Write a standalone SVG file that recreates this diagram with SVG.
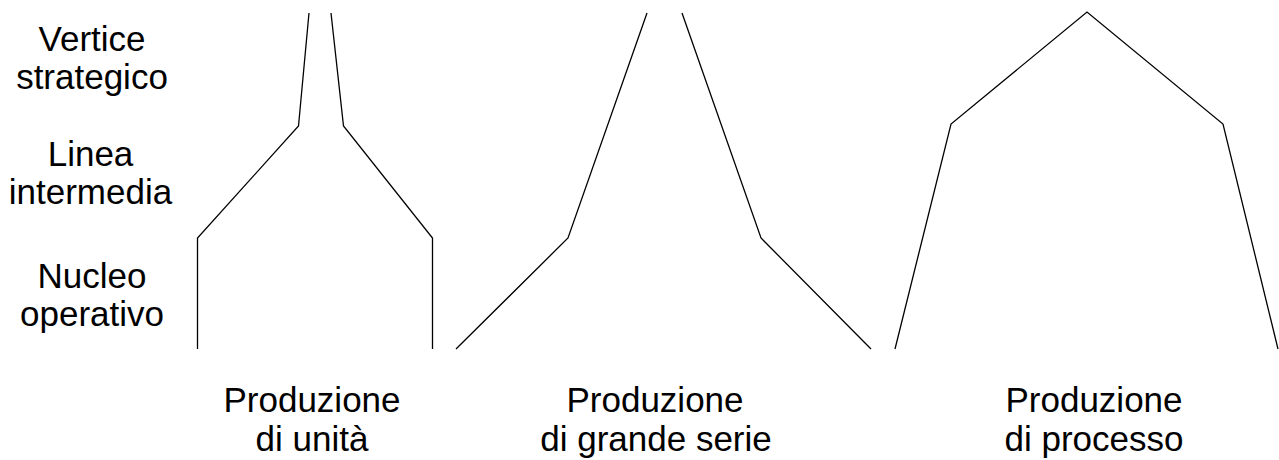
<svg xmlns="http://www.w3.org/2000/svg" width="1279" height="460" viewBox="0 0 1279 460">
<style>
text{font-family:"Liberation Sans",Arial,sans-serif;font-size:35px;fill:#000;text-anchor:middle}
.shape{fill:none;stroke:#000;stroke-width:1.3;stroke-linejoin:miter}
</style>
<rect width="1279" height="460" fill="#fff"/>
<g id="levels">
<text x="92" y="51">Vertice</text>
<text x="92" y="89">strategico</text>
<text x="90.5" y="166">Linea</text>
<text x="90.5" y="204">intermedia</text>
<text x="92" y="288">Nucleo</text>
<text x="92" y="326">operativo</text>
</g>
<g id="connectors">
<g id="unita">
<polyline class="shape" points="309,13 298.5,126 197.5,238 197.5,349"/>
<polyline class="shape" points="331,13 343.5,126 432.5,238 432.5,349"/>
</g>
<g id="grande-serie">
<polyline class="shape" points="647,13 568,238 456,349"/>
<polyline class="shape" points="682,13 761,238 871,349"/>
</g>
<g id="processo">
<polyline class="shape" points="895,349 951,124 1087,12 1223,124 1278,349"/>
</g>
</g>
<g id="label-unita">
<text x="312" y="412">Produzione</text>
<text x="312" y="451">di unità</text>
</g>
<g id="label-grande-serie">
<text x="655" y="412">Produzione</text>
<text x="656" y="451">di grande serie</text>
</g>
<g id="label-processo">
<text x="1094" y="412">Produzione</text>
<text x="1094" y="451">di processo</text>
</g>
</svg>
